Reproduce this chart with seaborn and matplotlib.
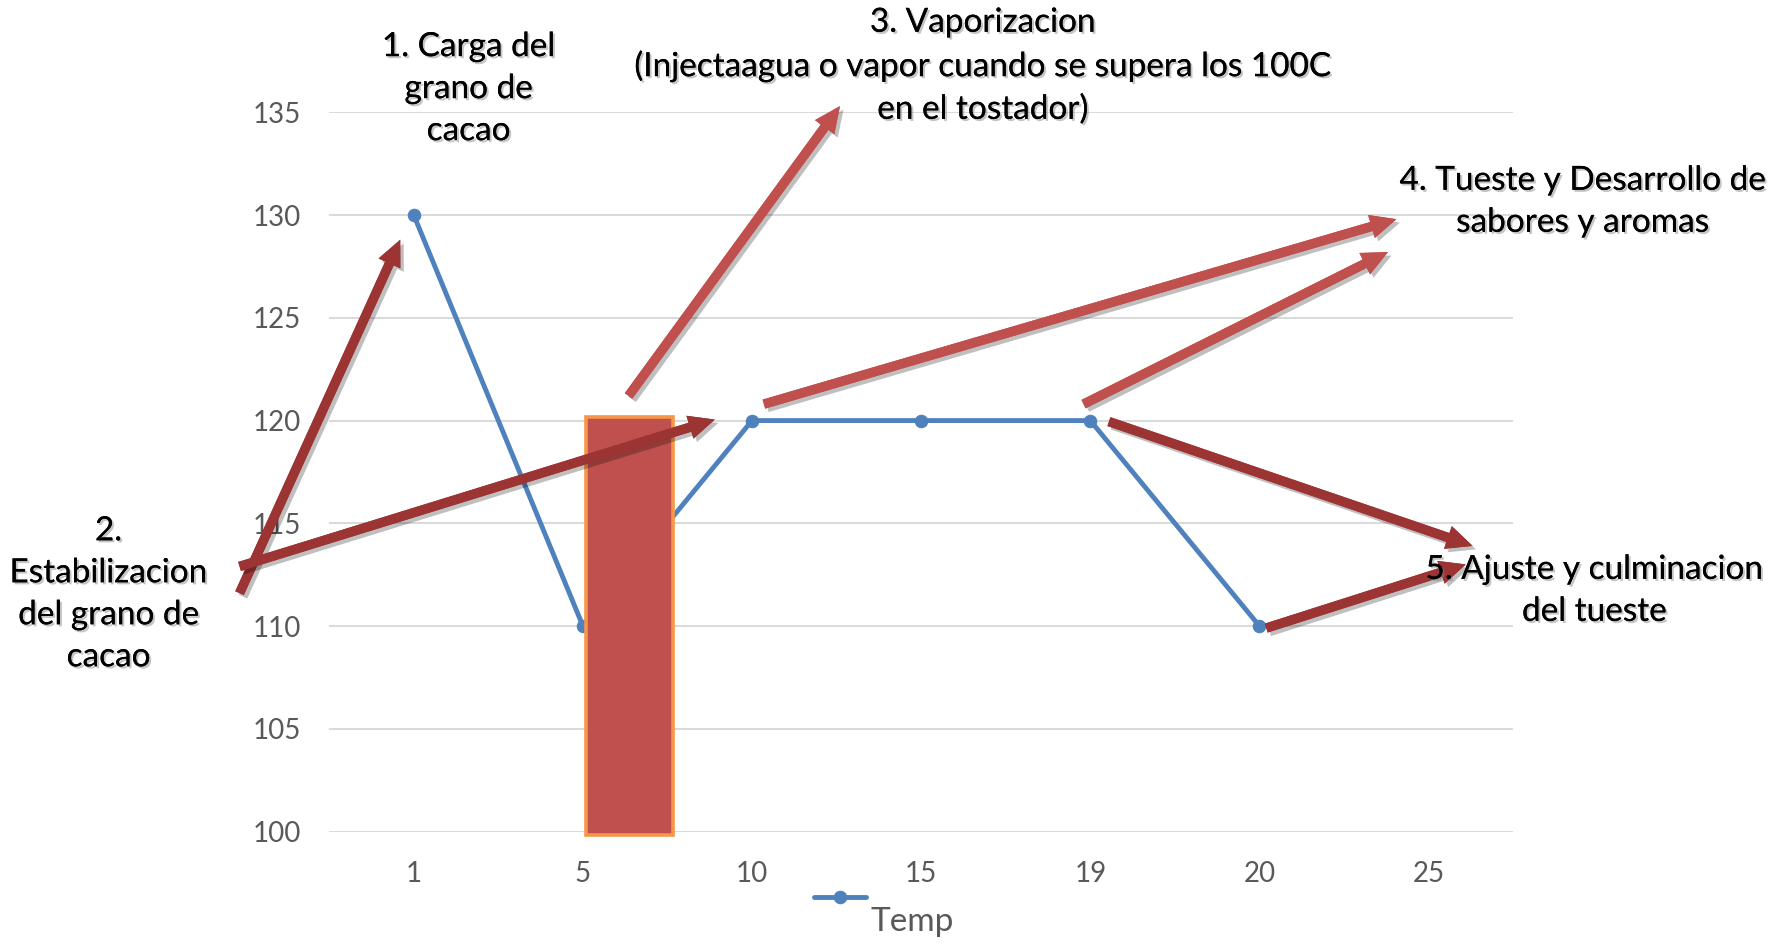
import numpy as np
import pandas as pd
import matplotlib
matplotlib.use("Agg")
import matplotlib.pyplot as plt
import matplotlib.patheffects as pe
from matplotlib.patches import Rectangle
import seaborn as sns

# Roasting profile: temperature reading at each time mark
categories = ["1", "5", "10", "15", "19", "20", "25"]
temp = [130, 110, 120, 120, 120, 110]
y_ticks = [100, 105, 110, 115, 120, 125, 130, 135]

# Stage labels
stage_labels = [
    "1. Carga del\ngrano de\ncacao",
    "2.\nEstabilizacion\ndel grano de\ncacao",
    "3. Vaporizacion\n(Injectaagua o vapor cuando se supera los 100C\nen el tostador)",
    "4. Tueste y Desarrollo de\nsabores y aromas",
    "5. Ajuste y culminacion\ndel tueste",
]

sns.set_theme(style="white")
plt.rcParams["font.family"] = ["Lato", "DejaVu Sans"]

BLUE = "#4F81BD"
RED = "#C0504D"
DARK_RED = "#9B3433"
ORANGE = "#F79646"
GRID = "#D9D9D9"
TICK = "#595959"

fig = plt.figure(figsize=(17.92, 9.43), dpi=100)
ax = fig.add_axes([0.1837, 0.1182, 0.6607, 0.7627])

df = pd.DataFrame({"pos": np.arange(len(temp)), "Temp": temp})
sns.lineplot(data=df, x="pos", y="Temp", ax=ax, color=BLUE, linewidth=3.5,
             marker="o", markersize=9, markeredgecolor=BLUE, label="Temp",
             zorder=3)

ax.set_xlim(-0.5, len(categories) - 0.5)
ax.set_ylim(min(y_ticks), max(y_ticks))
ax.set_xticks(np.arange(len(categories)), categories)
ax.set_yticks(y_ticks)
ax.tick_params(axis="both", colors=TICK, labelsize=20, length=0)
ax.tick_params(axis="y", pad=20)
ax.tick_params(axis="x", pad=21)
ax.set_xlabel("")
ax.set_ylabel("")
for s in ax.spines.values():
    s.set_visible(False)
ax.yaxis.grid(True, color=GRID, linewidth=1.4)
ax.set_axisbelow(True)

# Vaporization block
ax.add_patch(Rectangle((1.02, 99.85), 0.51, 20.3, facecolor=RED,
                       edgecolor=ORANGE, linewidth=2.6, zorder=4,
                       clip_on=False))

# Stage arrows (tail -> head in data coordinates)
arrows = [
    ((-1.03, 111.6), (-0.08, 128.8), DARK_RED),
    ((-1.03, 112.9), (1.78, 120.05), DARK_RED),
    ((1.27, 121.2), (2.52, 135.3), RED),
    ((2.07, 120.8), (5.81, 129.8), RED),
    ((3.96, 120.8), (5.76, 128.2), RED),
    ((4.11, 119.95), (6.26, 113.9), DARK_RED),
    ((5.04, 109.9), (6.22, 113.0), DARK_RED),
]
shadow = [pe.withSimplePatchShadow(offset=(2.5, -2.5), shadow_rgbFace="black",
                                   alpha=0.25), pe.Normal()]
for tail, head, col in arrows:
    ax.annotate("", xy=head, xytext=tail, annotation_clip=False,
                arrowprops=dict(
                    arrowstyle="simple,head_length=1.25,head_width=1.15,tail_width=0.45",
                    mutation_scale=15, fc=col, ec=col, lw=0,
                    shrinkA=0, shrinkB=0, path_effects=shadow),
                zorder=5)

text_shadow = [pe.withSimplePatchShadow(offset=(1.5, -1.5),
                                        shadow_rgbFace="#808080", alpha=0.45),
               pe.Normal()]
label_pos = [(0.2615, 0.9055), (0.0606, 0.3698), (0.5485, 0.9297),
             (0.8833, 0.786), (0.8897, 0.3734)]
for txt, (x, y) in zip(stage_labels, label_pos):
    fig.text(x, y, txt, ha="center", va="center", fontsize=24,
             color="black", linespacing=1.5, path_effects=text_shadow,
             zorder=6)

leg = ax.legend(loc="center", bbox_to_anchor=(0.4935, 0.046),
                bbox_transform=fig.transFigure, frameon=False,
                fontsize=24, handlelength=1.55, handletextpad=0.15,
                labelcolor=TICK)
# Series name sits a little below its line marker
leg.get_texts()[0].set_y(-22)

fig.savefig("out.png", dpi=100)
